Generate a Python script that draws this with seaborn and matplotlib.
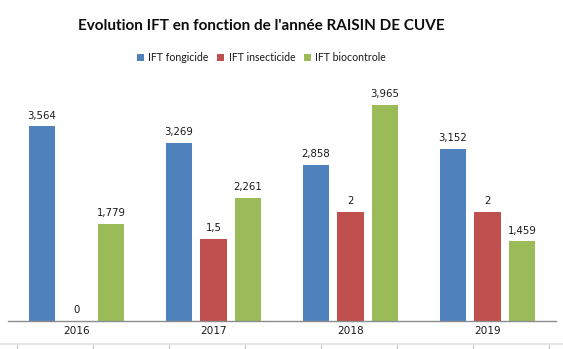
import matplotlib
matplotlib.use("Agg")
import matplotlib.pyplot as plt
from matplotlib.lines import Line2D
from matplotlib.patches import Patch
import seaborn as sns
import pandas as pd

# Data
annees = ["2016", "2017", "2018", "2019"]
series = ["IFT fongicide", "IFT insecticide", "IFT biocontrole"]
ift_fongicide = [3.564, 3.269, 2.858, 3.152]
ift_insecticide = [0.0, 1.5, 2.0, 2.0]
ift_biocontrole = [1.779, 2.261, 3.965, 1.459]
couleurs = ["#4F81BD", "#C0504D", "#9BBB59"]
titre = "Evolution IFT en fonction de l'année RAISIN DE CUVE"

valeurs = [ift_fongicide, ift_insecticide, ift_biocontrole]
df = pd.DataFrame(
    [(a, s, v) for s, vals in zip(series, valeurs) for a, v in zip(annees, vals)],
    columns=["annee", "serie", "valeur"],
)

sns.set_theme(style="white")
plt.rcParams["font.family"] = ["DejaVu Sans"]

W, H = 563, 349
fig = plt.figure(figsize=(W / 100, H / 100), dpi=100)
fig.patch.set_facecolor("white")

# plot area in pixel coordinates
x0, x1 = 8, 556
y_base = 321
ymax = 4.5
px_per_unit = 54.6
ax = fig.add_axes([x0 / W, (H - y_base) / H, (x1 - x0) / W, ymax * px_per_unit / H])

sns.barplot(
    data=df, x="annee", y="valeur", hue="serie", order=annees, hue_order=series,
    palette=couleurs, width=0.755, gap=0.22, saturation=1, legend=False,
    edgecolor="none", ax=ax,
)
ax.set_xlim(-0.5, 3.5)
ax.set_ylim(0, ymax)
ax.set_xlabel("")
ax.set_ylabel("")
ax.set_yticks([])
for side in ["left", "right", "top"]:
    ax.spines[side].set_visible(False)
ax.spines["bottom"].set_color("#8c8c8c")
ax.spines["bottom"].set_linewidth(1.0)
ax.tick_params(axis="x", length=0, pad=3.5, labelsize=7.6, labelcolor="#1a1a1a")
ax.set_facecolor("white")


def fmt(v):
    s = f"{v:.3f}".rstrip("0").rstrip(".")
    return s.replace(".", ",")


for cont in ax.containers:
    for bar in cont:
        h = bar.get_height()
        ax.annotate(
            fmt(h), (bar.get_x() + bar.get_width() / 2, h),
            xytext=(0, 5.5), textcoords="offset points",
            ha="center", va="baseline", fontsize=7.3, color="#1a1a1a",
        )

# Title
fig.text(261 / W, (H - 30.5) / H, titre, ha="center", va="baseline",
         fontsize=11.0, fontweight="bold", family=["Lato", "DejaVu Sans"], color="#0d0d0d")

# Legend
handles = [Patch(facecolor=c, edgecolor="none") for c in couleurs]
fig.legend(
    handles, series, loc="center", bbox_to_anchor=(261.5 / W, (H - 57.5) / H),
    ncol=3, frameon=False, handlelength=0.65, handleheight=0.65, handletextpad=0.4,
    columnspacing=0.85, prop={"family": ["Lato", "DejaVu Sans"], "size": 7.6},
    labelcolor="#1a1a1a",
)

# Sheet gridlines below the chart
fig.add_artist(Line2D([0, 1], [(H - 344.3) / H] * 2, transform=fig.transFigure,
                      color="#e3e3e3", lw=1.3))
for k in range(8):
    xp = 16.9 + 75.96 * k
    fig.add_artist(Line2D([xp / W] * 2, [(H - 345) / H, 0], transform=fig.transFigure,
                          color="#c0c0c0", lw=0.8))

fig.savefig("out.png", dpi=100, facecolor="white")
